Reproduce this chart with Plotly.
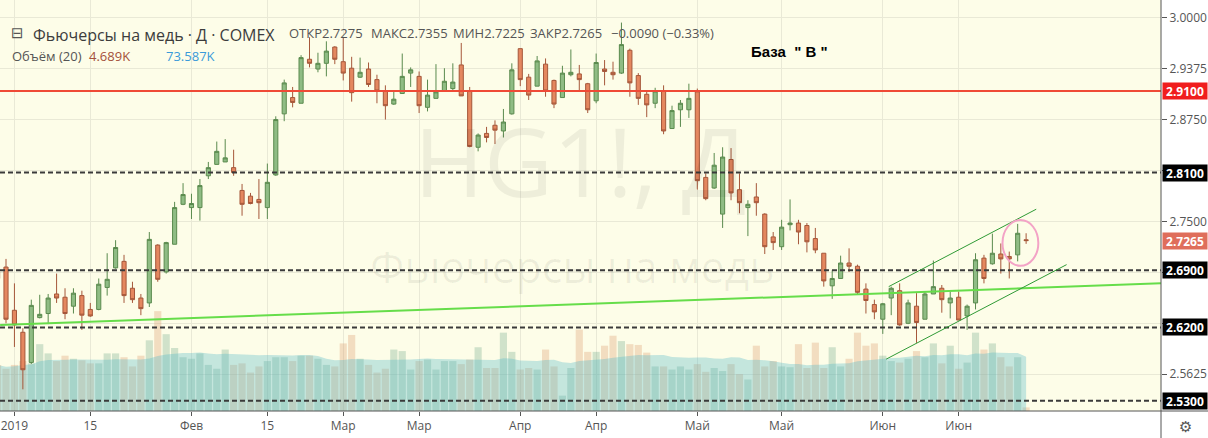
import plotly.graph_objects as go
import pandas as pd

# ---------------- data ----------------
bar_index = list(range(-1, 122))

open_ = [2.688, 2.694, 2.641, 2.614, 2.577, 2.632, 2.637, 2.661, 2.657, 2.646,
         2.659, 2.642, 2.642, 2.669, 2.693, 2.701, 2.668, 2.656, 2.650, 2.721,
         2.688, 2.722, 2.771, 2.767, 2.767, 2.806, 2.820, 2.823, 2.816, 2.788,
         2.781, 2.777, 2.767, 2.807, 2.882, 2.902, 2.895, 2.949, 2.937, 2.944,
         2.964, 2.946, 2.938, 2.927, 2.937, 2.924, 2.910, 2.894, 2.907, 2.932,
         2.928, 2.890, 2.901, 2.910, 2.913, 2.942, 2.910, 2.841, 2.858, 2.868,
         2.861, 2.882, 2.962, 2.927, 2.916, 2.943, 2.923, 2.902, 2.930, 2.931,
         2.919, 2.898, 2.937, 2.933, 2.932, 2.960, 2.929, 2.906, 2.895, 2.910,
         2.864, 2.887, 2.887, 2.909, 2.804, 2.791, 2.759, 2.826, 2.789, 2.767,
         2.780, 2.759, 2.731, 2.719, 2.746, 2.748, 2.745, 2.729, 2.711, 2.671,
         2.680, 2.699, 2.695, 2.667, 2.648, 2.630, 2.656, 2.665, 2.625, 2.646,
         2.630, 2.661, 2.668, 2.650, 2.657, 2.634, 2.650, 2.705, 2.698, 2.710,
         2.707, 2.709, 2.7275]
high = [2.695, 2.704, 2.674, 2.619, 2.654, 2.660, 2.661, 2.686, 2.668, 2.668,
        2.665, 2.650, 2.680, 2.711, 2.727, 2.709, 2.676, 2.661, 2.737, 2.722,
        2.725, 2.774, 2.797, 2.784, 2.802, 2.823, 2.848, 2.851, 2.838, 2.796,
        2.785, 2.802, 2.821, 2.879, 2.924, 2.915, 2.954, 2.976, 2.957, 2.971,
        2.965, 2.976, 2.952, 2.951, 2.945, 2.930, 2.917, 2.909, 2.956, 2.939,
        2.934, 2.924, 2.943, 2.938, 2.944, 2.969, 2.915, 2.858, 2.866, 2.874,
        2.888, 2.944, 2.962, 2.931, 2.953, 2.950, 2.924, 2.941, 2.961, 2.942,
        2.920, 2.956, 2.948, 2.946, 2.994, 2.962, 2.932, 2.911, 2.914, 2.917,
        2.892, 2.899, 2.919, 2.913, 2.809, 2.834, 2.841, 2.840, 2.809, 2.776,
        2.797, 2.760, 2.737, 2.752, 2.777, 2.752, 2.748, 2.742, 2.711, 2.690,
        2.708, 2.717, 2.697, 2.674, 2.654, 2.650, 2.670, 2.674, 2.654, 2.662,
        2.664, 2.702, 2.672, 2.664, 2.664, 2.648, 2.711, 2.709, 2.735, 2.723,
        2.713, 2.747, 2.7355]
low = [2.676, 2.625, 2.596, 2.544, 2.575, 2.631, 2.624, 2.650, 2.630, 2.637,
       2.617, 2.633, 2.641, 2.659, 2.692, 2.650, 2.650, 2.635, 2.645, 2.676,
       2.686, 2.722, 2.770, 2.753, 2.751, 2.802, 2.820, 2.823, 2.806, 2.757,
       2.771, 2.753, 2.753, 2.806, 2.873, 2.890, 2.895, 2.939, 2.933, 2.928,
       2.943, 2.923, 2.897, 2.926, 2.915, 2.895, 2.875, 2.893, 2.907, 2.915,
       2.883, 2.885, 2.901, 2.909, 2.909, 2.904, 2.841, 2.836, 2.847, 2.845,
       2.853, 2.881, 2.916, 2.899, 2.916, 2.903, 2.889, 2.902, 2.928, 2.911,
       2.883, 2.895, 2.917, 2.924, 2.931, 2.903, 2.893, 2.878, 2.889, 2.857,
       2.864, 2.866, 2.877, 2.789, 2.776, 2.790, 2.742, 2.776, 2.760, 2.732,
       2.757, 2.710, 2.715, 2.715, 2.739, 2.722, 2.712, 2.711, 2.670, 2.655,
       2.680, 2.688, 2.660, 2.637, 2.630, 2.612, 2.635, 2.622, 2.624, 2.601,
       2.630, 2.661, 2.638, 2.631, 2.629, 2.617, 2.642, 2.674, 2.697, 2.686,
       2.680, 2.701, 2.7225]
close = [2.680, 2.630, 2.623, 2.568, 2.647, 2.636, 2.656, 2.656, 2.637, 2.662,
         2.635, 2.634, 2.673, 2.679, 2.718, 2.659, 2.654, 2.643, 2.728, 2.679,
         2.724, 2.767, 2.783, 2.772, 2.794, 2.816, 2.836, 2.828, 2.810, 2.771,
         2.772, 2.773, 2.798, 2.875, 2.920, 2.896, 2.951, 2.944, 2.944, 2.959,
         2.949, 2.932, 2.908, 2.933, 2.918, 2.910, 2.892, 2.900, 2.928, 2.936,
         2.892, 2.905, 2.909, 2.922, 2.921, 2.904, 2.842, 2.856, 2.853, 2.862,
         2.872, 2.936, 2.924, 2.905, 2.947, 2.910, 2.894, 2.932, 2.933, 2.924,
         2.887, 2.945, 2.934, 2.930, 2.967, 2.920, 2.901, 2.893, 2.910, 2.861,
         2.886, 2.895, 2.901, 2.800, 2.778, 2.819, 2.829, 2.785, 2.773, 2.771,
         2.773, 2.719, 2.724, 2.743, 2.748, 2.737, 2.725, 2.715, 2.677, 2.680,
         2.699, 2.695, 2.663, 2.653, 2.639, 2.649, 2.668, 2.623, 2.650, 2.626,
         2.661, 2.670, 2.654, 2.656, 2.629, 2.646, 2.703, 2.680, 2.711, 2.704,
         2.704, 2.7355, 2.7265]
volume_k = [60, 55, 60, 65, 62, 87, 75, 65, 72, 68,
            66, 62, 62, 75, 75, 70, 58, 72, 92, 130,
            100, 82, 70, 68, 75, 60, 55, 80, 60, 62,
            50, 58, 65, 70, 70, 65, 72, 72, 68, 60,
            58, 88, 99, 68, 60, 50, 55, 80, 78, 54,
            65, 67, 54, 65, 65, 61, 67, 83, 56, 56,
            102, 77, 54, 56, 54, 80, 58, 20, 56, 106,
            77, 77, 85, 98, 91, 87, 86, 76, 58, 58,
            54, 58, 54, 61, 51, 56, 52, 61, 48, 41,
            85, 58, 65, 58, 57, 87, 56, 89, 56, 83,
            58, 68, 102, 85, 88, 72, 65, 63, 68, 78,
            70, 88, 62, 85, 55, 63, 102, 80, 88, 70,
            58, 70, 4.689]

tick_bars = [1, 10, 22, 31, 40, 49, 61, 70, 82, 92, 104, 113]
tick_labels = ["2019", "15", "Фев", "15", "Мар", "Мар", "Апр", "Апр", "Май", "Май", "Июн", "Июн"]

price_ticks = [3.0, 2.9375, 2.875, 2.8125, 2.75, 2.6875, 2.625, 2.5625]
price_tick_text = ["3.0000", "2.9375", "2.8750", "", "2.7500", "", "", "2.5625"]

resistance_level = 2.91
dashed_levels = [2.81, 2.69, 2.62, 2.53]
last_price = 2.7265
trend_x, trend_y = [-0.7, 137.0], [2.623, 2.674]
upper_x, upper_y = [104.7, 122.2], [2.670, 2.765]
lower_x, lower_y = [104.4, 125.8], [2.581, 2.697]
circle_x, circle_y = [118.2, 122.45], [2.6956, 2.7517]

header_values = [("ОТКР2.7275", 287), ("МАКС2.7355", 369), ("МИН2.7225", 451),
                 ("ЗАКР2.7265", 528), ("−0.0090 (−0.33%)", 609)]

# ---------------- geometry helpers ----------------
W, H = 1208, 438
PW, PH = 1161, 411  # plot area


def px(x):
    return x / PW


def py(y):
    return 1 - y / PH


ma = pd.Series(volume_k).rolling(20, min_periods=1).mean()
vol_colors = ["rgba(107,165,131,0.30)" if c >= o else "rgba(215,140,90,0.28)"
              for o, c in zip(open_, close)]

fig = go.Figure()
fig.add_trace(go.Bar(x=bar_index, y=volume_k, marker_color=vol_colors,
                     marker_line_width=0, yaxis="y", showlegend=False))
fig.add_trace(go.Scatter(x=bar_index, y=ma, mode="lines", line=dict(width=0),
                         fill="tozeroy", fillcolor="rgba(90,185,200,0.35)",
                         yaxis="y", showlegend=False))
fig.add_trace(go.Candlestick(
    x=bar_index, open=open_, high=high, low=low, close=close, yaxis="y2",
    increasing=dict(fillcolor="#8fbc84", line=dict(color="#5a8a4e", width=1)),
    decreasing=dict(fillcolor="#e4875f", line=dict(color="#a5573a", width=1)),
    whiskerwidth=0, showlegend=False))

shapes = []
shapes.append(dict(type="line", xref="paper", yref="y2", x0=0, x1=1,
                   y0=resistance_level, y1=resistance_level,
                   line=dict(color="#ef4a36", width=2), layer="above"))
for lv in dashed_levels:
    shapes.append(dict(type="line", xref="paper", yref="y2", x0=0, x1=1, y0=lv, y1=lv,
                       line=dict(color="#3a3a3a", width=2, dash="5px,3px"), layer="above"))
shapes.append(dict(type="line", xref="x", yref="y2", x0=trend_x[0], x1=trend_x[1],
                   y0=trend_y[0], y1=trend_y[1], line=dict(color="#66dd4a", width=2),
                   layer="above"))
for xs, ys in [(upper_x, upper_y), (lower_x, lower_y)]:
    shapes.append(dict(type="line", xref="x", yref="y2", x0=xs[0], x1=xs[1],
                       y0=ys[0], y1=ys[1], line=dict(color="#2f9a35", width=1),
                       layer="above"))
shapes.append(dict(type="circle", xref="x", yref="y2", x0=circle_x[0], x1=circle_x[1],
                   y0=circle_y[0], y1=circle_y[1], line=dict(color="#f3a3c6", width=2),
                   layer="above"))
# frame lines
shapes.append(dict(type="line", xref="paper", yref="paper", x0=1, x1=1,
                   y0=-27 / PH, y1=1, line=dict(color="#555555", width=1), layer="above"))
shapes.append(dict(type="line", xref="paper", yref="paper", x0=0, x1=W / PW,
                   y0=0, y1=0, line=dict(color="#555555", width=1), layer="above"))

annotations = []
# watermark
annotations.append(dict(text="HG1!, Д", xref="paper", yref="paper", x=px(580), y=py(160),
                        showarrow=False, font=dict(size=95, color="rgba(0,0,0,0.06)")))
annotations.append(dict(text="Фьючерсы на медь", xref="paper", yref="paper", x=px(572),
                        y=py(266), showarrow=False,
                        font=dict(size=43, color="rgba(0,0,0,0.06)")))
# header
annotations.append(dict(text="⊟", xref="paper", yref="paper", x=px(9), y=py(22),
                        xanchor="left", showarrow=False,
                        font=dict(size=15, color="#555555", family="DejaVu Sans")))
annotations.append(dict(text="Фьючерсы на медь · Д · COMEX", xref="paper", yref="paper",
                        x=px(31), y=py(22), xanchor="left", showarrow=False,
                        font=dict(size=16, color="#3c3c3c")))
for txt, xpos in header_values:
    annotations.append(dict(text=txt, xref="paper", yref="paper", x=px(xpos), y=py(22),
                            xanchor="left", showarrow=False,
                            font=dict(size=13, color="#555555")))
annotations.append(dict(text="Объём (20)", xref="paper", yref="paper", x=px(10), y=py(45),
                        xanchor="left", showarrow=False, font=dict(size=13, color="#555555")))
annotations.append(dict(text="4.689K", xref="paper", yref="paper", x=px(87), y=py(45),
                        xanchor="left", showarrow=False, font=dict(size=13, color="#a4513a")))
annotations.append(dict(text="73.587K", xref="paper", yref="paper", x=px(164), y=py(45),
                        xanchor="left", showarrow=False, font=dict(size=13, color="#3a9ad9")))
annotations.append(dict(text='<b>База  " В "</b>', xref="paper", yref="paper", x=px(749),
                        y=py(41), xanchor="left", showarrow=False,
                        font=dict(size=15, color="#000000", family="Liberation Sans")))
# right axis price boxes
box_specs = [(resistance_level, "#f01e1e")] + [(lv, "#000000") for lv in dashed_levels] + \
            [(last_price, "#df6e5b")]
for val, col in box_specs:
    annotations.append(dict(text=f"<b>{val:.4f}</b>", xref="paper", yref="y2", x=1, y=val,
                            xanchor="left", xshift=1, showarrow=False, bgcolor=col,
                            width=44, height=16, borderpad=0,
                            font=dict(size=12, color="#ffffff")))
# settings icon in the bottom-right corner
annotations.append(dict(text="⚙", xref="paper", yref="paper", x=1, xshift=16,
                        y=0, yshift=-5, xanchor="left", yanchor="top", showarrow=False,
                        font=dict(size=15, color="#555555", family="DejaVu Sans")))

fig.update_layout(
    width=W, height=H,
    margin=dict(l=0, r=W - PW, t=0, b=H - PH),
    paper_bgcolor="#ffffff", plot_bgcolor="#fdfde8",
    font=dict(family="Open Sans", size=12, color="#555555"),
    showlegend=False, bargap=0.15,
    shapes=shapes, annotations=annotations,
    xaxis=dict(range=[-0.712, 137.0], tickmode="array", tickvals=tick_bars,
               ticktext=tick_labels, showgrid=True, gridcolor="#e9e9d6", zeroline=False,
               ticks="outside", ticklen=4, tickcolor="#555555", rangeslider=dict(visible=False),
               tickfont=dict(size=12, color="#555555"), fixedrange=True),
    yaxis=dict(range=[0, 535], visible=False, showgrid=False, fixedrange=True),
    yaxis2=dict(range=[2.5174, 3.0217], overlaying="y", side="right", tickmode="array",
                tickvals=price_ticks, ticktext=price_tick_text, showgrid=True,
                gridcolor="#e9e9d6", zeroline=False, ticks="outside", ticklen=5,
                tickcolor="#555555", tickfont=dict(size=12, color="#555555"),
                fixedrange=True),
)

fig.write_html("out.html", config={"displayModeBar": False},
               post_script="document.body.style.margin='0px';")
